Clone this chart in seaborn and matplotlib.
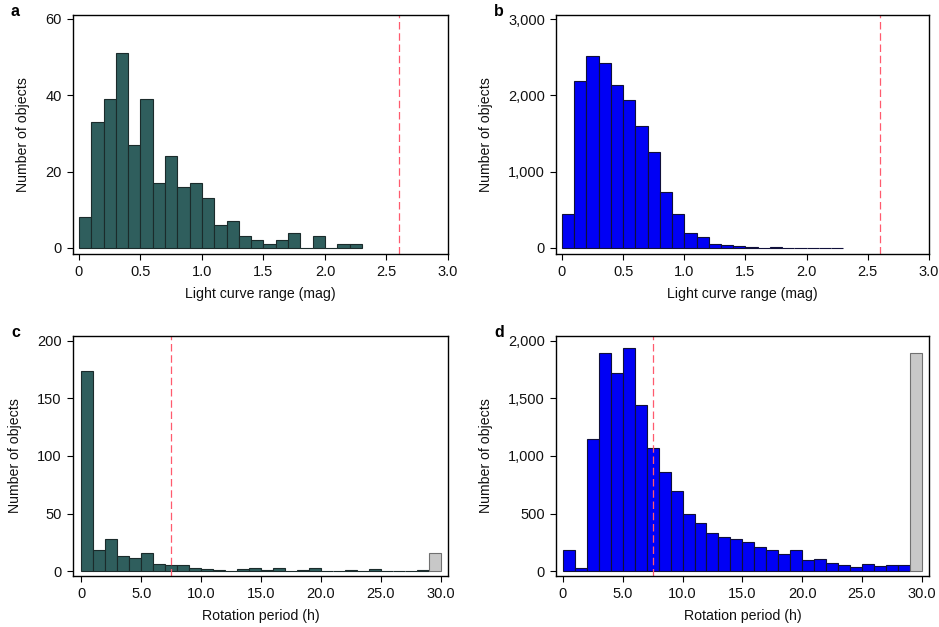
import matplotlib
matplotlib.use("Agg")
import matplotlib.pyplot as plt
import seaborn as sns
import numpy as np
import pandas as pd

sns.set_theme(style="white")
plt.rcParams['font.family'] = ['Liberation Sans', 'DejaVu Sans']

# ---- data ----
amp_edges = [round(0.1 * i, 1) for i in range(24)]  # 0.0 .. 2.3
amp_counts_a = [8, 33, 39, 51, 27, 39, 17, 24, 16, 17, 13, 6, 7, 3, 2, 1, 2, 4, 0, 3, 0, 1, 1]
amp_counts_b = [450, 2190, 2510, 2430, 2130, 1940, 1600, 1260, 740, 440, 190, 140, 55, 45, 20,
                10, 5, 8, 3, 2, 2, 1, 1]

per_edges = list(range(30))  # 0 .. 29
per_counts_c = [174, 18, 28, 13, 11, 16, 6, 5, 5, 3, 2, 1, 0, 2, 3, 1, 3, 0, 1, 3, 0, 0, 1, 0, 2,
                0, 0, 0, 1]
per_counts_d = [180, 30, 1150, 1890, 1720, 1935, 1440, 1070, 860, 695, 495, 415, 330, 295, 280,
                255, 205, 180, 150, 180, 95, 105, 70, 55, 35, 60, 45, 55, 55]
overflow_edges = [29, 30]
overflow_c = [16]
overflow_d = [1890]

amp_threshold = 2.6
per_threshold = 7.5

teal = "#2f5e5d"
blue = "#0000f5"
grey = "#c8c8c8"
red = "#ff5a6e"

fig = plt.figure(figsize=(9.39, 6.27), dpi=100)
ax_a = fig.add_axes([0.0777, 0.5949, 0.3994, 0.381])
ax_b = fig.add_axes([0.5921, 0.5949, 0.3972, 0.381])
ax_c = fig.add_axes([0.0777, 0.0813, 0.3994, 0.383])
ax_d = fig.add_axes([0.5921, 0.0813, 0.3972, 0.383])


def hist(ax, edges, counts, color, edgecolor):
    centers = [(edges[i] + edges[i + 1]) / 2 for i in range(len(counts))]
    df = pd.DataFrame({"x": centers, "w": counts})
    sns.histplot(data=df, x="x", weights="w", bins=edges, ax=ax, color=color,
                 edgecolor=edgecolor, linewidth=0.8, alpha=1)


hist(ax_a, amp_edges, amp_counts_a, teal, "#1b2b2b")
hist(ax_b, amp_edges, amp_counts_b, blue, "#10103a")
hist(ax_c, per_edges, per_counts_c, teal, "#1b2b2b")
hist(ax_c, overflow_edges, overflow_c, grey, "#707070")
hist(ax_d, per_edges, per_counts_d, blue, "#10103a")
hist(ax_d, overflow_edges, overflow_d, grey, "#707070")

for ax in (ax_a, ax_b):
    ax.axvline(amp_threshold, color=red, lw=0.9, dashes=(6, 3))
    ax.set_xlim(-0.049, 3.0)
    ax.set_xticks([0, 0.5, 1.0, 1.5, 2.0, 2.5, 3.0])
    ax.set_xticklabels(["0", "0.5", "1.0", "1.5", "2.0", "2.5", "3.0"])
    ax.set_xlabel("Light curve range (mag)")
for ax in (ax_c, ax_d):
    ax.axvline(per_threshold, color=red, lw=0.9, dashes=(6, 3))
    ax.set_xticks([0, 5, 10, 15, 20, 25, 30])
    ax.set_xticklabels(["0", "5.0", "10.0", "15.0", "20.0", "25.0", "30.0"])
    ax.set_xlabel("Rotation period (h)")
ax_c.set_xlim(-0.7, 30.6)
ax_d.set_xlim(-0.58, 30.6)

ax_a.set_ylim(-1.6, 61)
ax_a.set_yticks([0, 20, 40, 60])
ax_b.set_ylim(-79, 3052)
ax_b.set_yticks([0, 1000, 2000, 3000])
ax_b.set_yticklabels(["0", "1,000", "2,000", "3,000"])
ax_c.set_ylim(-4.3, 204.3)
ax_c.set_yticks([0, 50, 100, 150, 200])
ax_d.set_ylim(-43, 2043)
ax_d.set_yticks([0, 500, 1000, 1500, 2000])
ax_d.set_yticklabels(["0", "500", "1,000", "1,500", "2,000"])

for ax, letter in zip((ax_a, ax_b, ax_c, ax_d), "abcd"):
    ax.set_ylabel("Number of objects", fontsize=10.2, labelpad=11, color="#111111")
    ax.set_xlabel(ax.get_xlabel(), fontsize=10.2, labelpad=6, color="#111111")
    for s in ax.spines.values():
        s.set_visible(True)
        s.set_color("black")
        s.set_linewidth(1.0)
    ax.tick_params(axis="both", which="both", direction="out", length=4.5, width=0.8,
                   labelsize=10.5, colors="black", labelcolor="#111111",
                   bottom=True, left=True, top=False, right=False)
    ax.grid(False)
    pos = ax.get_position()
    fig.text(pos.x0 - 0.066, pos.y1 + 0.018, letter, fontsize=11.5, fontweight="bold",
             ha="left", va="top", color="black")

fig.savefig("out.png", dpi=100)
